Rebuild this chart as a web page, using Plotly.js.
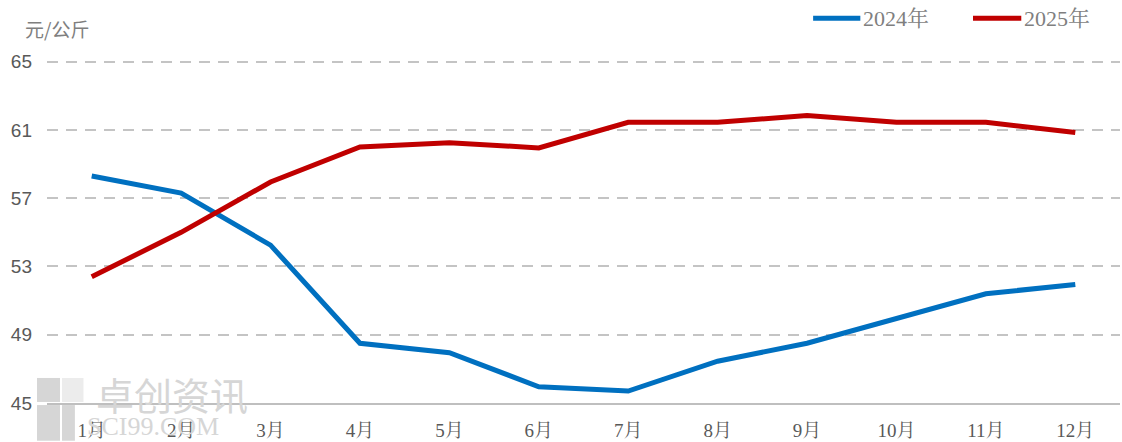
<!DOCTYPE html>
<html><head><meta charset="utf-8">
<script src="https://cdn.plot.ly/plotly-3.0.1.min.js"></script>
<style>html,body{margin:0;padding:0;background:#fff}#c{width:1122px;height:442px}</style>
</head><body><div id="c"></div>
<script>
const months = ["1月","2月","3月","4月","5月","6月","7月","8月","9月","10月","11月","12月"];
const price2024 = [58.3, 57.3, 54.25, 48.5, 47.95, 45.95, 45.7, 47.45, 48.5, 49.95, 51.4, 51.95];
const price2025 = [52.4, 55.0, 57.95, 60.0, 60.25, 59.95, 61.45, 61.45, 61.85, 61.45, 61.45, 60.85];
const yTicks = [45, 49, 53, 57, 61, 65];
const seriesNames = ["2024年", "2025年"];
const colors = ["#0070C0", "#C00000"];

const serif = "'Liberation Serif','Noto Serif CJK SC','Noto Sans CJK SC',serif";
const sans = "'Liberation Sans','Noto Sans CJK SC',sans-serif";

const traces = [
  {x: months, y: price2024, name: seriesNames[0], type: "scatter", mode: "lines",
   line: {color: colors[0], width: 5}},
  {x: months, y: price2025, name: seriesNames[1], type: "scatter", mode: "lines",
   line: {color: colors[1], width: 5}}
];

const wm = "#d6d6d6";
const legY = 1.122;
const shapes = [
  {type: "line", xref: "paper", yref: "paper", x0: 0.714, x1: 0.758, y0: legY, y1: legY, line: {color: colors[0], width: 5}},
  {type: "line", xref: "paper", yref: "paper", x0: 0.863, x1: 0.908, y0: legY, y1: legY, line: {color: colors[1], width: 5}},
  {type: "rect", xref: "paper", yref: "paper", x0: -0.0093, x1: 0.0121, y0: 0.003, y1: 0.073, fillcolor: wm, line: {width: 0}, layer: "below"},
  {type: "rect", xref: "paper", yref: "paper", x0: -0.0093, x1: 0.0121, y0: -0.11, y1: -0.006, fillcolor: wm, line: {width: 0}, layer: "below"},
  {type: "rect", xref: "paper", yref: "paper", x0: 0.014, x1: 0.026, y0: -0.11, y1: -0.006, fillcolor: wm, line: {width: 0}, layer: "below"},
  {type: "rect", xref: "paper", yref: "paper", x0: 0.014, x1: 0.034, y0: 0.003, y1: 0.073, fillcolor: "#ececec", line: {width: 0}, layer: "below"}
];

const layout = {
  width: 1122, height: 442,
  margin: {l: 47, r: 2, t: 60, b: 39, autoexpand: false},
  paper_bgcolor: "#fff", plot_bgcolor: "#fff",
  showlegend: false,
  xaxis: {type: "category", range: [-0.5, 11.5], showgrid: false, zeroline: false,
    showline: true, linecolor: "#bfbfbf", linewidth: 2, ticks: "", ticklabelstandoff: 9,
    tickfont: {family: serif, size: 19, color: "#595959"}, fixedrange: true},
  yaxis: {range: [45, 65.1], tickvals: yTicks, ticktext: yTicks.map(String),
    showgrid: true, gridcolor: "#c4c4c4", griddash: "11px,8px", gridwidth: 2,
    zeroline: false, showline: false, ticks: "", ticklabelstandoff: 14,
    tickfont: {family: sans, size: 19, color: "#595959"}, fixedrange: true},
  annotations: [
    {text: "元/公斤", xref: "paper", yref: "paper", x: -0.0224, y: 1.093, xanchor: "left", yanchor: "middle",
     showarrow: false, font: {family: "'Noto Sans CJK SC',sans-serif", size: 19, color: "#7f7f7f"}},
    {text: seriesNames[0], xref: "paper", yref: "paper", x: 0.759, y: legY, xanchor: "left", yanchor: "middle",
     showarrow: false, font: {family: serif, size: 22, color: "#7f7f7f"}},
    {text: seriesNames[1], xref: "paper", yref: "paper", x: 0.909, y: legY, xanchor: "left", yanchor: "middle",
     showarrow: false, font: {family: serif, size: 22, color: "#7f7f7f"}},
    {text: "卓创资讯", xref: "paper", yref: "paper", x: 0.044, y: 0.028, xanchor: "left", yanchor: "middle",
     showarrow: false, font: {family: "'Noto Sans CJK SC',sans-serif", size: 38, color: wm}},
    {text: "SCI99.COM", xref: "paper", yref: "paper", x: 0.035, y: -0.068, xanchor: "left", yanchor: "middle",
     showarrow: false, font: {family: serif, size: 26, color: wm}}
  ],
  shapes: shapes
};

Plotly.newPlot("c", traces, layout, {displayModeBar: false, staticPlot: true});
</script>
</body></html>
